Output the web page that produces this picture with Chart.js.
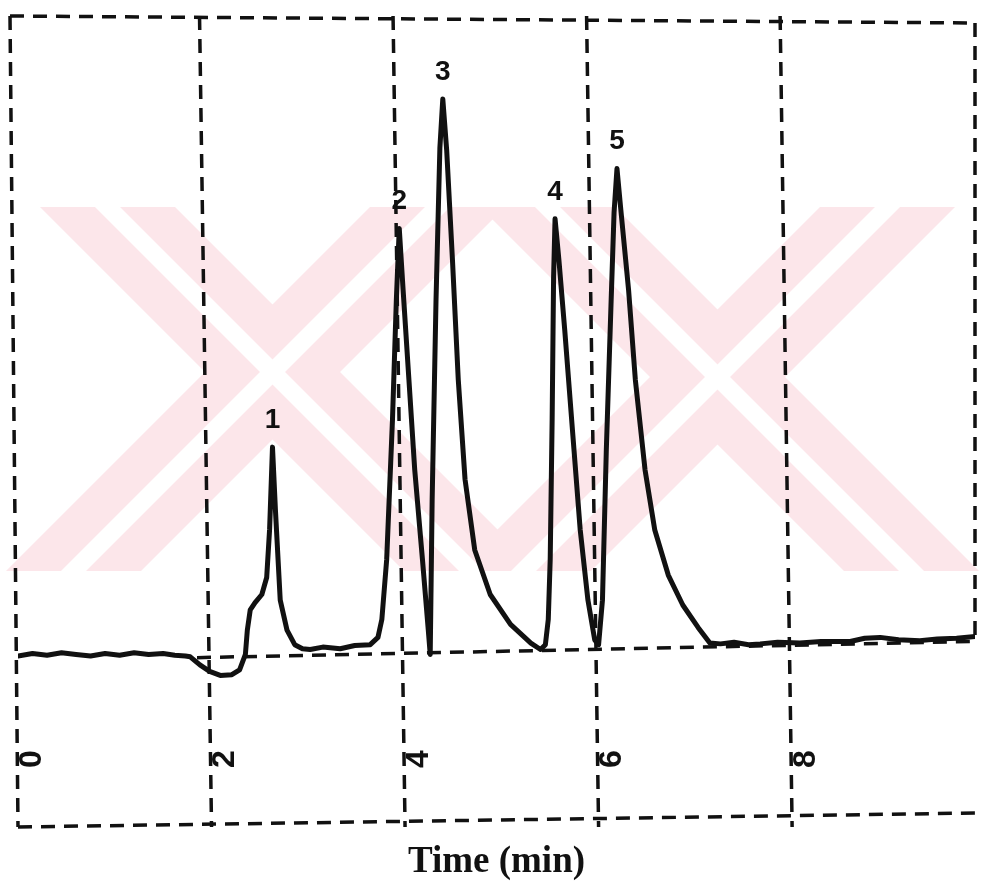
<!DOCTYPE html>
<html>
<head>
<meta charset="utf-8">
<title>Chromatogram</title>
<script src="https://cdn.jsdelivr.net/npm/chart.js@4.4.0/dist/chart.umd.min.js"></script>
<style>
  body { margin: 0; background: #fff; }
  #wrap { width: 981px; height: 881px; }
</style>
</head>
<body>
<div id="wrap"><canvas id="chrom" width="981" height="881"></canvas></div>
<script>
// detector trace (time in min, arbitrary signal units)
const times = [0, 0.15, 0.3, 0.45, 0.6, 0.75, 0.9, 1.05, 1.2, 1.35, 1.5, 1.62, 1.73, 1.78, 1.88, 1.98,
  2.09, 2.21, 2.29, 2.35, 2.37, 2.4, 2.45, 2.52, 2.57, 2.6, 2.63, 2.66, 2.71, 2.78, 2.86, 2.94,
  3.02, 3.15, 3.33, 3.48, 3.64, 3.72, 3.76, 3.81, 3.87, 3.91, 3.94, 3.98, 4.04, 4.1, 4.18, 4.24,
  4.26, 4.28, 4.32, 4.36, 4.39, 4.43, 4.49, 4.55, 4.62, 4.72, 4.88, 5.09, 5.3, 5.4, 5.45, 5.48,
  5.5, 5.52, 5.535, 5.55, 5.59, 5.65, 5.73, 5.81, 5.89, 5.96, 6.0, 6.04, 6.08, 6.13, 6.16, 6.19,
  6.23, 6.31, 6.38, 6.48, 6.58, 6.72, 6.87, 7.03, 7.15, 7.26, 7.4, 7.55, 7.67, 7.85, 8.08, 8.3,
  8.6, 8.75, 8.91, 9.1, 9.32, 9.5, 9.7, 9.89];
const signal = [1.2, 1.5, 1.3, 1.6, 1.4, 1.2, 1.5, 1.3, 1.6, 1.4, 1.5, 1.3, 1.2, 1.1, 0.1, -0.7,
  -1.2, -1.1, -0.5, 1.4, 4.4, 6.9, 7.8, 8.8, 10.9, 16.8, 27.0, 19.3, 8.1, 4.4, 2.6, 2.1,
  2.0, 2.3, 2.1, 2.5, 2.6, 3.5, 5.7, 13.1, 30.4, 45.2, 54.0, 46.4, 35.3, 24.2, 13.1, 4.4,
  1.4, 20.5, 45.2, 64.0, 70.0, 63.7, 50.1, 35.3, 23.0, 14.3, 8.8, 5.1, 2.8, 2.0, 2.6, 5.7,
  13.1, 30.4, 48.0, 55.2, 50.1, 41.5, 29.1, 16.8, 8.1, 3.2, 2.6, 8.1, 26.7, 45.2, 56.0, 61.4,
  56.3, 46.4, 35.3, 24.2, 16.8, 11.2, 7.5, 4.7, 2.8, 2.7, 2.9, 2.6, 2.7, 2.9, 2.8, 3.0,
  3.0, 3.4, 3.5, 3.2, 3.1, 3.3, 3.4, 3.6];

// hand-drawn baseline under the peaks
const baseTimes = [1.85, 9.89];
const baseSignal = [1.0, 3.0];

const peakTimes = [2.63, 3.94, 4.39, 5.55, 6.19];
const peakNames = ["1", "2", "3", "4", "5"];

const xTicks = [0, 2, 4, 6, 8];

const ink = "#111";

function dashed(ctx, x1, y1, x2, y2) {
  ctx.beginPath();
  ctx.moveTo(x1, y1);
  ctx.lineTo(x2, y2);
  ctx.stroke();
}

// faint pink logo behind the plot
function drawWatermark(ctx) {
  const top = 207, bot = 571;
  const bands = [[40, 1], [370, -1], [480, 1], [820, -1]];
  ctx.save();
  ctx.beginPath();
  ctx.rect(0, top, 981, bot - top);
  ctx.clip();
  ctx.fillStyle = "rgb(252, 230, 234)";
  bands.forEach(([x0, dir]) => {
    const x1 = x0 + dir * (bot - top);
    ctx.beginPath();
    ctx.moveTo(x0, top);
    ctx.lineTo(x0 + 135, top);
    ctx.lineTo(x1 + 135, bot);
    ctx.lineTo(x1, bot);
    ctx.closePath();
    ctx.fill();
  });
  ctx.fillStyle = "#fff";
  bands.forEach(([x0, dir]) => {
    const x1 = x0 + dir * (bot - top);
    ctx.beginPath();
    ctx.moveTo(x0 + 55, top);
    ctx.lineTo(x0 + 80, top);
    ctx.lineTo(x1 + 80, bot);
    ctx.lineTo(x1 + 55, bot);
    ctx.closePath();
    ctx.fill();
  });
  ctx.restore();
}

const framePlugin = {
  id: "frame",
  beforeDatasetsDraw(chart) {
    const { ctx, chartArea: a, scales } = chart;
    const x = scales.x, y = scales.y;
    drawWatermark(ctx);
    ctx.save();
    ctx.strokeStyle = ink;
    ctx.lineWidth = 3.5;
    ctx.setLineDash([14, 9]);
    const skew = 12;
    // border
    dashed(ctx, a.left - 8, a.top - 2, a.right, a.top + 5);
    dashed(ctx, a.left, a.bottom + 5, a.right, a.bottom - 9);
    dashed(ctx, a.right, a.top + 5, a.right, y.getPixelForValue(3));
    // vertical time lines (scan is slightly skewed)
    xTicks.forEach(t => {
      const px = x.getPixelForValue(t);
      const s = t === 0 ? 8 : skew;
      dashed(ctx, px - s, a.top - 2, px, a.bottom + 5);
    });
    // rotated tick numbers
    ctx.setLineDash([]);
    ctx.fillStyle = ink;
    ctx.font = "bold 32px 'Liberation Sans', sans-serif";
    ctx.textAlign = "center";
    ctx.textBaseline = "middle";
    xTicks.forEach(t => {
      const px = x.getPixelForValue(t) + 14;
      ctx.save();
      ctx.translate(px, a.bottom - 63);
      ctx.rotate(-Math.PI / 2);
      ctx.fillText(String(t), 0, 0);
      ctx.restore();
    });
    ctx.restore();
  },
  afterDatasetsDraw(chart) {
    const { ctx, scales } = chart;
    ctx.save();
    ctx.fillStyle = ink;
    ctx.font = "bold 28px 'Liberation Sans', sans-serif";
    ctx.textAlign = "center";
    ctx.textBaseline = "middle";
    peakTimes.forEach((t, i) => {
      const v = signal[times.indexOf(t)];
      const px = scales.x.getPixelForValue(t);
      const py = scales.y.getPixelForValue(v);
      ctx.fillText(peakNames[i], px, py - 27);
    });
    ctx.restore();
  }
};

new Chart(document.getElementById("chrom"), {
  type: "line",
  data: {
    datasets: [
      {
        label: "trace",
        data: times.map((t, i) => ({ x: t, y: signal[i] })),
        borderColor: ink,
        borderWidth: 5,
        pointRadius: 0,
        tension: 0,
        borderJoinStyle: "round",
        borderCapStyle: "round"
      },
      {
        label: "baseline",
        data: baseTimes.map((t, i) => ({ x: t, y: baseSignal[i] })),
        borderColor: ink,
        borderWidth: 3.5,
        borderDash: [14, 9],
        pointRadius: 0
      }
    ]
  },
  options: {
    responsive: false,
    animation: false,
    layout: { padding: { left: 18, right: 6, top: 18, bottom: 0 } },
    plugins: { legend: { display: false }, tooltip: { enabled: false } },
    scales: {
      x: {
        type: "linear",
        min: 0,
        max: 9.89,
        grid: { display: false, drawTicks: false },
        border: { display: false },
        ticks: { display: false },
        title: {
          display: true,
          text: "Time (min)",
          color: ink,
          font: { family: "'Liberation Serif', serif", size: 37, weight: "bold", lineHeight: 1.0 },
          padding: { top: 22, bottom: 0 }
        }
      },
      y: {
        display: false,
        min: -19.3,
        max: 80
      }
    }
  },
  plugins: [framePlugin]
});
</script>
</body>
</html>
